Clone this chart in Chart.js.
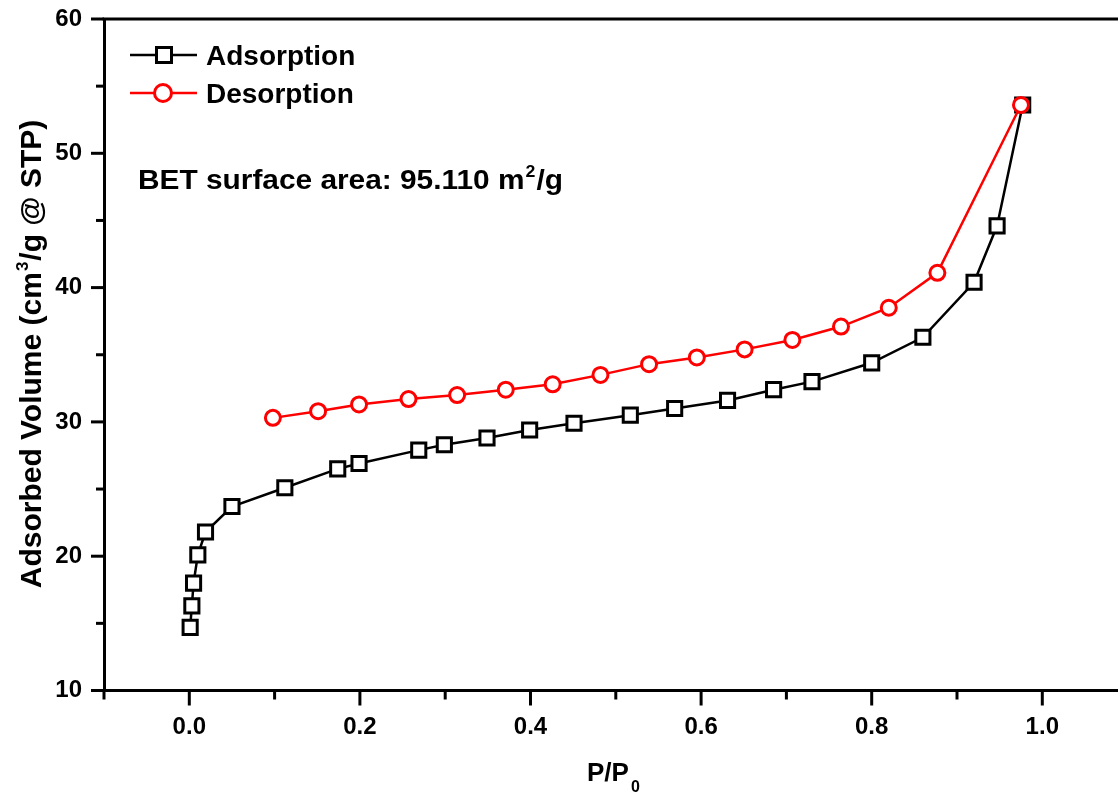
<!DOCTYPE html>
<html>
<head>
<meta charset="utf-8">
<script src="https://cdn.jsdelivr.net/npm/chart.js@4/dist/chart.umd.min.js"></script>
<style>
  html, body { margin: 0; padding: 0; background: #fff; overflow: hidden; }
  #wrap { width: 1150px; height: 793px; }
</style>
</head>
<body>
<div id="wrap"><canvas id="iso" width="1150" height="793"></canvas></div>
<script>
const adsX = [0.001, 0.003, 0.005, 0.010, 0.019, 0.050, 0.112, 0.174, 0.199, 0.269, 0.299, 0.349, 0.399, 0.451, 0.517, 0.569, 0.631, 0.685, 0.730, 0.800, 0.860, 0.920, 0.947, 0.977];
const adsY = [14.7, 16.3, 18.0, 20.1, 21.8, 23.7, 25.1, 26.5, 26.9, 27.9, 28.3, 28.8, 29.4, 29.9, 30.5, 31.0, 31.6, 32.4, 33.0, 34.4, 36.3, 40.4, 44.6, 53.6];
const desX = [0.975, 0.877, 0.820, 0.764, 0.707, 0.651, 0.595, 0.539, 0.482, 0.426, 0.371, 0.314, 0.257, 0.199, 0.151, 0.098];
const desY = [53.6, 41.1, 38.5, 37.1, 36.1, 35.4, 34.8, 34.3, 33.5, 32.8, 32.4, 32.0, 31.7, 31.3, 30.8, 30.3];

const seriesNames = ['Adsorption', 'Desorption'];
const betLabel = 'BET surface area: 95.110 m';

function toPoints(xs, ys) {
    return xs.map((x, i) => ({ x: x, y: ys[i] }));
}

const boldFont = "'Liberation Sans', Arial, sans-serif";
const wantArea = { left: 104, top: 19, right: 1127.6, bottom: 690.5 };

const decorPlugin = {
    id: 'decor',
    afterDraw(chart) {
        const ctx = chart.ctx;
        const area = chart.chartArea;
        const xs = chart.scales.x;
        const ys = chart.scales.y;
        ctx.save();
        ctx.strokeStyle = '#000';
        ctx.lineWidth = 3;
        // top frame line
        ctx.beginPath();
        ctx.moveTo(area.left - 1.5, area.top);
        ctx.lineTo(area.right + 5, area.top);
        ctx.stroke();

        // x tick marks
        for (let v = -1; v <= 11; v++) {
            const px = xs.getPixelForValue(v / 10);
            const len = (v % 2 === 0) ? 15 : 9;
            ctx.beginPath();
            ctx.moveTo(px, area.bottom);
            ctx.lineTo(px, area.bottom + len);
            ctx.stroke();
        }
        // y tick marks
        for (let v = 10; v <= 60; v += 5) {
            const py = ys.getPixelForValue(v);
            const len = (v % 10 === 0) ? 13 : 8;
            ctx.beginPath();
            ctx.moveTo(area.left, py);
            ctx.lineTo(area.left - len, py);
            ctx.stroke();
        }

        // legend
        const legendRows = [
            { name: seriesNames[0], color: '#000', style: 'rect', y: 55 },
            { name: seriesNames[1], color: '#ff0000', style: 'circle', y: 93 }
        ];
        legendRows.forEach(row => {
            ctx.strokeStyle = row.color;
            ctx.lineWidth = 2.5;
            ctx.beginPath();
            ctx.moveTo(130, row.y);
            ctx.lineTo(197, row.y);
            ctx.stroke();
            ctx.fillStyle = '#fff';
            ctx.lineWidth = 3;
            ctx.beginPath();
            if (row.style === 'rect') {
                ctx.rect(164 - 7.5, row.y - 7.5, 15, 15);
            } else {
                ctx.arc(163, row.y, 8.5, 0, Math.PI * 2);
            }
            ctx.fill();
            ctx.stroke();
            ctx.fillStyle = '#000';
            ctx.font = 'bold 28px ' + boldFont;
            ctx.textBaseline = 'alphabetic';
            ctx.textAlign = 'left';
            ctx.fillText(row.name, 206, row.y + 10);
        });

        // BET annotation, stretched a little to the reference width
        ctx.save();
        ctx.font = 'bold 27px ' + boldFont;
        const w = ctx.measureText(betLabel).width;
        const gw = ctx.measureText('/g').width;
        ctx.font = 'bold 16px ' + boldFont;
        const w2 = ctx.measureText('2').width;
        const natural = w + w2 + 2 + gw;
        ctx.translate(138, 189);
        ctx.scale(425 / natural, 1);
        ctx.fillStyle = '#000';
        ctx.font = 'bold 27px ' + boldFont;
        ctx.fillText(betLabel, 0, 0);
        ctx.fillText('/g', w + w2 + 2, 0);
        ctx.font = 'bold 16px ' + boldFont;
        ctx.fillText('2', w + 1, -12);
        ctx.restore();

        // x axis title P/P0
        ctx.font = 'bold 26px ' + boldFont;
        const t = 'P/P';
        const tw = ctx.measureText(t).width;
        const tx = 587;
        ctx.fillText(t, tx, 781);
        ctx.font = 'bold 16px ' + boldFont;
        ctx.fillText('0', tx + tw + 2, 792);

        // y axis title
        ctx.translate(41, 354);
        ctx.rotate(-Math.PI / 2);
        const a = 'Adsorbed Volume (cm';
        const b = '/g @ STP)';
        ctx.font = 'bold 17px ' + boldFont;
        const sw = ctx.measureText('3').width;
        ctx.font = 'bold 30px ' + boldFont;
        const aw = ctx.measureText(a).width;
        const bw = ctx.measureText(b).width;
        const total = aw + sw + bw + 2;
        const sx = -total / 2;
        ctx.fillText(a, sx, 0);
        ctx.font = 'bold 17px ' + boldFont;
        ctx.fillText('3', sx + aw + 1, -13);
        ctx.font = 'bold 30px ' + boldFont;
        ctx.fillText(b, sx + aw + sw + 2, 0);
        ctx.restore();
    }
};

new Chart(document.getElementById('iso').getContext('2d'), {
    type: 'scatter',
    data: {
        datasets: [
            {
                label: seriesNames[0],
                data: toPoints(adsX, adsY),
                order: 1,
                showLine: true,
                borderColor: '#000',
                backgroundColor: '#fff',
                borderWidth: 2.5,
                pointStyle: 'rect',
                pointRadius: 10,
                pointBorderWidth: 3,
                pointBorderColor: '#000',
                pointBackgroundColor: '#fff',
                tension: 0
            },
            {
                label: seriesNames[1],
                data: toPoints(desX, desY),
                order: 0,
                showLine: true,
                borderColor: '#ff0000',
                backgroundColor: '#fff',
                borderWidth: 2.5,
                pointStyle: 'circle',
                pointRadius: 7.5,
                pointBorderWidth: 3,
                pointBorderColor: '#ff0000',
                pointBackgroundColor: '#fff',
                tension: 0
            }
        ]
    },
    options: {
        responsive: false,
        animation: false,
        layout: { padding: { left: 0, top: wantArea.top, right: 1150 - wantArea.right, bottom: 0 } },
        scales: {
            x: {
                type: 'linear',
                min: -0.1,
                max: 1.1,
                afterFit: function(scale) {
                    scale.height = 793 - wantArea.bottom;
                    scale.paddingLeft = 0;
                    scale.paddingRight = 0;
                },
                grid: { display: false },
                border: { display: true, color: '#000', width: 3 },
                ticks: {
                    stepSize: 0.1,
                    autoSkip: false,
                    maxRotation: 0,
                    padding: 14,
                    color: '#000',
                    font: { family: boldFont, weight: 'bold', size: 24 },
                    callback: function(v) {
                        const k = Math.round(v * 10);
                        return (k >= 0 && k <= 10 && k % 2 === 0) ? (k / 10).toFixed(1) : '';
                    }
                }
            },
            y: {
                min: 10,
                max: 60,
                afterFit: function(scale) {
                    scale.width = wantArea.left;
                    scale.paddingTop = 0;
                    scale.paddingBottom = 0;
                },
                grid: { display: false },
                border: { display: true, color: '#000', width: 3 },
                ticks: {
                    stepSize: 5,
                    padding: 14,
                    color: '#000',
                    font: { family: boldFont, weight: 'bold', size: 24 },
                    callback: function(v) { return v % 10 === 0 ? String(v) : ''; }
                }
            }
        },
        plugins: {
            legend: { display: false },
            tooltip: { enabled: false }
        }
    },
    plugins: [decorPlugin]
});
</script>
</body>
</html>
